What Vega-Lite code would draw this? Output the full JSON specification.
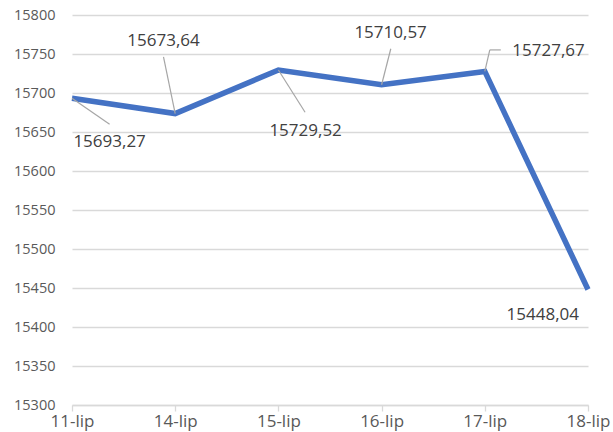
{
  "$schema": "https://vega.github.io/schema/vega-lite/v6.json",
  "width": 516,
  "height": 390,
  "autosize": "none",
  "padding": {"left": 72, "top": 15, "right": 25, "bottom": 27},
  "background": "white",
  "config": {
    "locale": {"number": {"decimal": ",", "thousands": ".", "grouping": [3], "currency": ["", ""]}},
    "view": {"stroke": null},
    "font": "Open Sans",
    "axis": {"labelFont": "Open Sans", "labelFontSize": 14.5, "labelColor": "#595959", "title": null}
  },
  "data": {
    "values": [
      {"date": "11-lip", "value": 15693.27},
      {"date": "14-lip", "value": 15673.64},
      {"date": "15-lip", "value": 15729.52},
      {"date": "16-lip", "value": 15710.57},
      {"date": "17-lip", "value": 15727.67},
      {"date": "18-lip", "value": 15448.04}
    ]
  },
  "encoding": {
    "x": {
      "field": "date", "type": "ordinal", "sort": null,
      "scale": {"type": "point", "padding": 0},
      "axis": {"labelAngle": 0, "labelFontSize": 17, "domainColor": "#d9d9d9", "domainWidth": 1.3, "tickColor": "#d9d9d9", "tickWidth": 1.3, "tickSize": 6, "labelPadding": 2, "grid": false}
    },
    "y": {
      "field": "value", "type": "quantitative",
      "scale": {"domain": [15300, 15800], "nice": false, "zero": false},
      "axis": {"values": [15300, 15350, 15400, 15450, 15500, 15550, 15600, 15650, 15700, 15750, 15800], "format": "d", "domain": false, "ticks": false, "labelPadding": 17, "gridColor": "#d9d9d9", "gridWidth": 1.3}
    }
  },
  "layer": [
    {"mark": {"type": "line", "color": "#4472C4", "strokeWidth": 5.5, "strokeJoin": "miter", "strokeCap": "butt"}},
    {"transform": [{"filter": "datum.date == '11-lip'"}], "mark": {"type": "rule", "color": "#a6a6a6", "strokeWidth": 1.2, "x2Offset": 37.6, "y2Offset": 26}, "encoding": {"x2": {"field": "date"}, "y2": {"field": "value"}}},
    {"transform": [{"filter": "datum.date == '14-lip'"}], "mark": {"type": "rule", "color": "#a6a6a6", "strokeWidth": 1.2, "x2Offset": -11.7, "y2Offset": -56.6}, "encoding": {"x2": {"field": "date"}, "y2": {"field": "value"}}},
    {"transform": [{"filter": "datum.date == '15-lip'"}], "mark": {"type": "rule", "color": "#a6a6a6", "strokeWidth": 1.2, "x2Offset": 26.7, "y2Offset": 42.3}, "encoding": {"x2": {"field": "date"}, "y2": {"field": "value"}}},
    {"transform": [{"filter": "datum.date == '16-lip'"}], "mark": {"type": "rule", "color": "#a6a6a6", "strokeWidth": 1.2, "x2Offset": 9.2, "y2Offset": -36}, "encoding": {"x2": {"field": "date"}, "y2": {"field": "value"}}},
    {"transform": [{"filter": "datum.date == '17-lip'"}], "mark": {"type": "rule", "color": "#a6a6a6", "strokeWidth": 1.2, "x2Offset": 5, "y2Offset": -21.5}, "encoding": {"x2": {"field": "date"}, "y2": {"field": "value"}}},
    {"transform": [{"filter": "datum.date == '17-lip'"}], "mark": {"type": "rule", "color": "#a6a6a6", "strokeWidth": 1.2, "xOffset": 5, "yOffset": -21.5, "x2Offset": 16, "y2Offset": -21.5}, "encoding": {"x2": {"field": "date"}, "y2": {"field": "value"}}},
    {"transform": [{"filter": "datum.date == '11-lip'"}], "mark": {"type": "text", "fontSize": 17, "color": "#404040", "dx": 37.6, "dy": 43.8, "baseline": "middle"}, "encoding": {"text": {"field": "value", "type": "quantitative", "format": ".2f"}}},
    {"transform": [{"filter": "datum.date == '14-lip'"}], "mark": {"type": "text", "fontSize": 17, "color": "#404040", "dx": -11.7, "dy": -72.6, "baseline": "middle"}, "encoding": {"text": {"field": "value", "type": "quantitative", "format": ".2f"}}},
    {"transform": [{"filter": "datum.date == '15-lip'"}], "mark": {"type": "text", "fontSize": 17, "color": "#404040", "dx": 27.2, "dy": 60.6, "baseline": "middle"}, "encoding": {"text": {"field": "value", "type": "quantitative", "format": ".2f"}}},
    {"transform": [{"filter": "datum.date == '16-lip'"}], "mark": {"type": "text", "fontSize": 17, "color": "#404040", "dx": 9, "dy": -51.5, "baseline": "middle"}, "encoding": {"text": {"field": "value", "type": "quantitative", "format": ".2f"}}},
    {"transform": [{"filter": "datum.date == '17-lip'"}], "mark": {"type": "text", "fontSize": 17, "color": "#404040", "dx": 63.7, "dy": -20.1, "baseline": "middle"}, "encoding": {"text": {"field": "value", "type": "quantitative", "format": ".2f"}}},
    {"transform": [{"filter": "datum.date == '18-lip'"}], "mark": {"type": "text", "fontSize": 17, "color": "#404040", "dx": -45.2, "dy": 25.5, "baseline": "middle"}, "encoding": {"text": {"field": "value", "type": "quantitative", "format": ".2f"}}}
  ]
}
